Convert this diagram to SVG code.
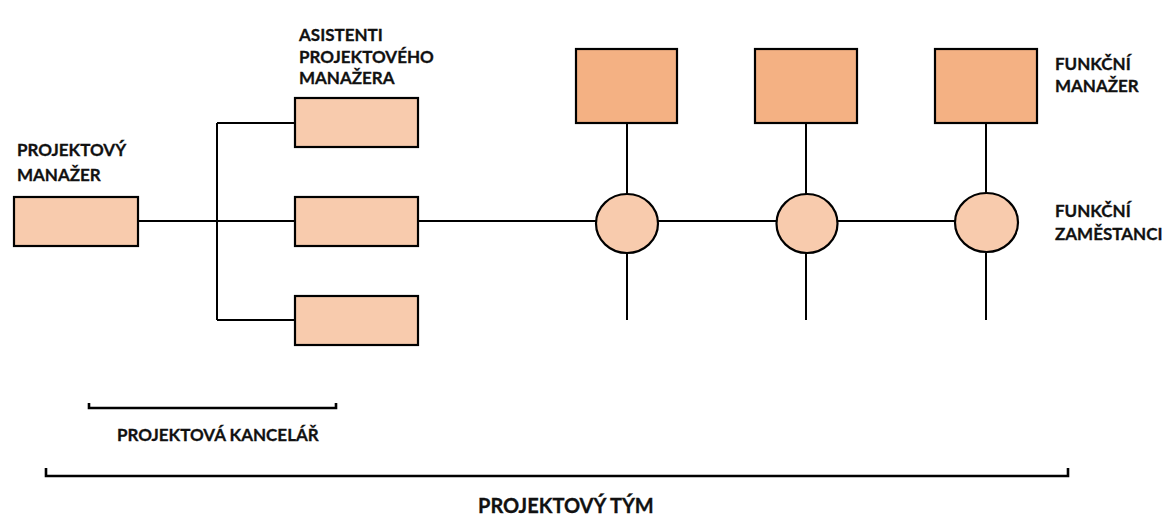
<svg xmlns="http://www.w3.org/2000/svg" width="1164" height="517" viewBox="0 0 1164 517">
<style>
.lt{fill:#F8CBAD;stroke:#000;stroke-width:2.2}
.dk{fill:#F4B183;stroke:#000;stroke-width:2.2}
.ln{fill:none;stroke:#000;stroke-width:2}
.br{fill:none;stroke:#000;stroke-width:2.6}
text{font-family:Lato,"Open Sans",sans-serif;font-weight:bold;font-size:17px;fill:#111;stroke:#111;stroke-width:0.3}
.big{font-size:20px}
</style>
<rect width="1164" height="517" fill="#fff"/>
<g id="connectors">
<path class="ln" d="M138,221 H295 M217,123 V320 M217,123 H295 M217,320 H295 M418,221 H596 M658,221 H777 M838,221 H955"/>
<path class="ln" d="M627,123 V194 M627,253 V320 M806,123 V194 M806,253 V320 M986,123 V194 M986,253 V320"/>
</g>
<g id="projektovy-manazer">
<rect class="lt" x="14" y="197" width="124" height="49"/>
<text x="17" y="156">PROJEKTOVÝ</text>
<text x="17" y="181">MANAŽER</text>
</g>
<g id="asistent-1">
<rect class="lt" x="295" y="98" width="123" height="49"/>
<text x="299" y="41">ASISTENTI</text>
<text x="299" y="63">PROJEKTOVÉHO</text>
<text x="299" y="84">MANAŽERA</text>
</g>
<g id="asistent-2">
<rect class="lt" x="295" y="197" width="123" height="49"/>
</g>
<g id="asistent-3">
<rect class="lt" x="295" y="296" width="123" height="49"/>
</g>
<g id="funkcni-manazer-1"><rect class="dk" x="576" y="49" width="101" height="74"/></g>
<g id="funkcni-manazer-2"><rect class="dk" x="755" y="49" width="102" height="74"/></g>
<g id="funkcni-manazer-3"><rect class="dk" x="935" y="49" width="102" height="74"/></g>
<g id="funkcni-zamestnanec-1"><ellipse class="lt" cx="627" cy="223.5" rx="31" ry="29.5"/></g>
<g id="funkcni-zamestnanec-2"><ellipse class="lt" cx="807" cy="223.5" rx="30.5" ry="29.5"/></g>
<g id="funkcni-zamestnanec-3"><ellipse class="lt" cx="986.5" cy="222.5" rx="31.5" ry="29.5"/></g>
<g id="label-funkcni-manazer">
<text x="1055" y="70">FUNKČNÍ</text>
<text x="1055" y="92">MANAŽER</text>
</g>
<g id="label-funkcni-zamestnanci">
<text x="1055" y="217">FUNKČNÍ</text>
<text x="1055" y="240">ZAMĚSTANCI</text>
</g>
<g id="projektova-kancelar">
<path class="br" d="M89,403 V408 H336 V403"/>
<text x="117" y="441">PROJEKTOVÁ KANCELÁŘ</text>
</g>
<g id="projektovy-tym">
<path class="br" d="M46,468 V476 H1068 V468"/>
<text class="big" x="478" y="513">PROJEKTOVÝ TÝM</text>
</g>
</svg>
